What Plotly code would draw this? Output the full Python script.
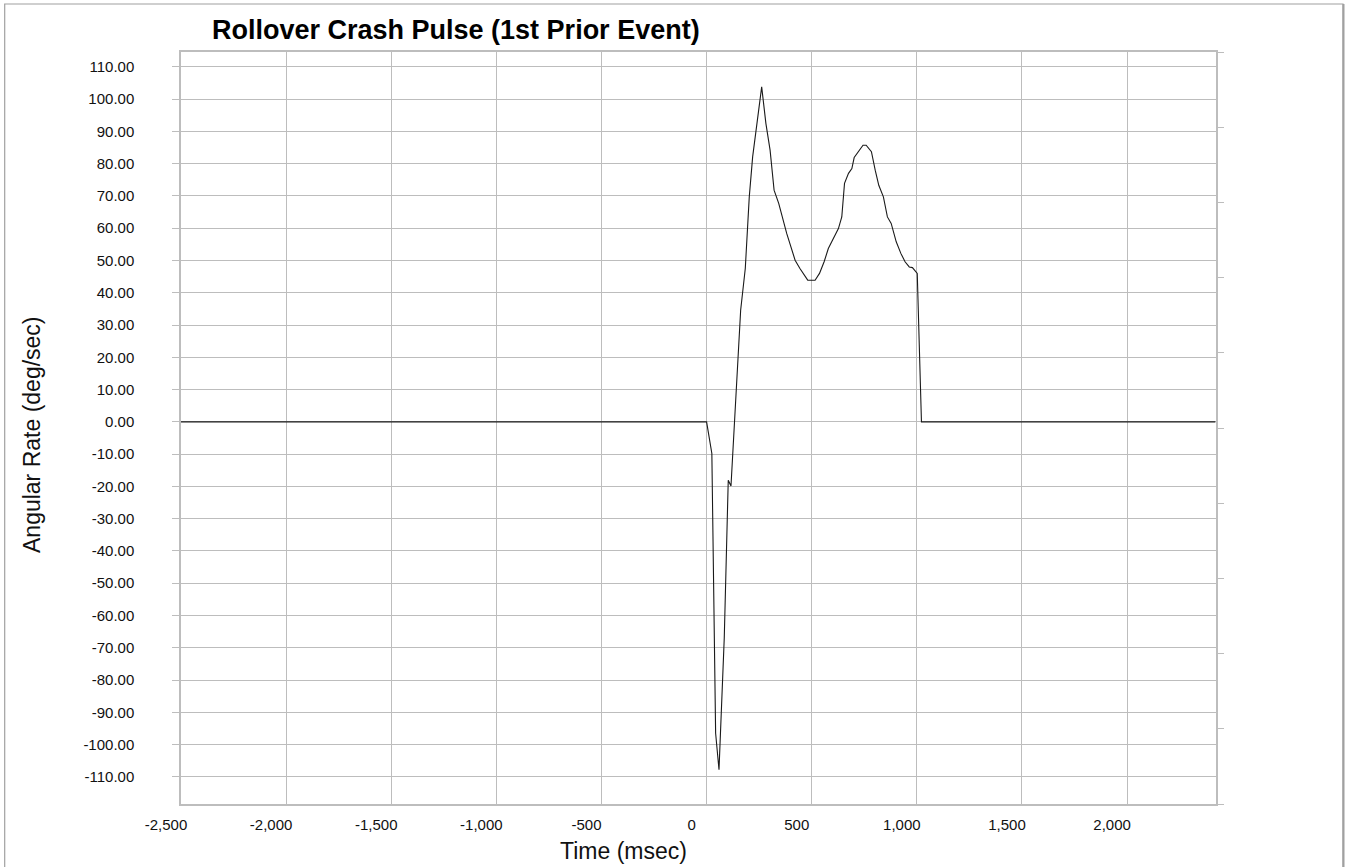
import plotly.graph_objects as go

# ---- data ----
time_msec = [-2500, 0, 25, 43, 59, 84, 103, 116, 162, 184, 203, 219, 262, 282, 302,
             321, 343, 381, 421, 444, 481, 516, 537, 559, 579, 603, 627, 643, 656,
             675, 691, 702, 727, 744, 759, 784, 802, 819, 841, 860, 878, 902, 924,
             944, 964, 979, 1002, 1022, 2420]
angular_rate = [0, 0, -9.8, -96.5, -107.8, -67.0, -18.1, -19.9, 34.6, 47.5, 69.7, 82.1,
                103.8, 92.5, 84.2, 71.8, 67.7, 58.4, 50.1, 47.5, 43.9, 43.9, 46.0, 49.6,
                53.7, 56.8, 59.9, 63.5, 73.9, 77.0, 78.5, 81.9, 84.0, 85.7, 85.7, 83.7,
                78.0, 73.3, 69.7, 63.5, 61.5, 55.8, 52.2, 49.6, 48.0, 47.8, 46.0, 0, 0]

x_tick_values = [-2500, -2000, -1500, -1000, -500, 0, 500, 1000, 1500, 2000]
x_tick_labels = ["-2,500", "-2,000", "-1,500", "-1,000", "-500", "0", "500",
                 "1,000", "1,500", "2,000"]
y_tick_values = [110, 100, 90, 80, 70, 60, 50, 40, 30, 20, 10, 0,
                 -10, -20, -30, -40, -50, -60, -70, -80, -90, -100, -110]
y_tick_labels = ["110.00", "100.00", "90.00", "80.00", "70.00", "60.00", "50.00",
                 "40.00", "30.00", "20.00", "10.00", "0.00", "-10.00", "-20.00",
                 "-30.00", "-40.00", "-50.00", "-60.00", "-70.00", "-80.00",
                 "-90.00", "-100.00", "-110.00"]
right_tick_values = [0, 1, 2, 3, 4, 5, 6, 7, 8, 9, 10]

title_text = "Rollover Crash Pulse (1st Prior Event)"
x_title = "Time (msec)"
y_title = "Angular Rate (deg/sec)"

# ---- layout geometry ----
W, H = 1347, 867
ML, MR, MT, MB = 181, 131, 52, 63
PW, PH = W - ML - MR, H - MT - MB


def px_x(px):
    return (px - ML) / PW


def px_y(py):
    return (H - MB - py) / PH


FONT = "Liberation Sans, Arial, sans-serif"
GRID = "#bdbdbd"

fig = go.Figure()
fig.add_trace(go.Scatter(x=time_msec, y=angular_rate, mode="lines",
                         line=dict(color="#1a1a1a", width=1.1),
                         showlegend=False, hoverinfo="x+y"))
# empty trace so that the right-hand tick axis is drawn
fig.add_trace(go.Scatter(x=[], y=[], yaxis="y2", showlegend=False, hoverinfo="skip"))

fig.update_layout(
    width=W, height=H,
    margin=dict(l=ML, r=MR, t=MT, b=MB, pad=0),
    paper_bgcolor="white", plot_bgcolor="white",
    font=dict(family=FONT, size=15, color="#111111"),
    showlegend=False,
    xaxis=dict(range=[-2500, 2423], tickmode="array", tickvals=x_tick_values,
               ticktext=x_tick_labels, ticks="", showgrid=True, gridcolor=GRID,
               gridwidth=1, zeroline=False, showline=True, linecolor=GRID,
               linewidth=1.5, mirror=True, ticklabelshift=-15,
               ticklabelstandoff=6, tickfont=dict(size=15)),
    yaxis=dict(range=[-118.4, 114.6], tickmode="array", tickvals=y_tick_values,
               ticktext=y_tick_labels, ticks="outside", ticklen=7, tickcolor=GRID,
               tickwidth=1, showgrid=True, gridcolor=GRID, gridwidth=1,
               zeroline=False, showline=True, linecolor=GRID, linewidth=1.5,
               mirror=True, ticklabelstandoff=35, tickfont=dict(size=15)),
    yaxis2=dict(overlaying="y", side="right", anchor="x", range=[0, 10],
                tickmode="array", tickvals=right_tick_values, ticks="outside",
                ticklen=7, tickcolor=GRID, tickwidth=1, showticklabels=False,
                showgrid=False, zeroline=False, showline=False),
)

fig.add_annotation(text="<b>" + title_text + "</b>", xref="paper", yref="paper",
                   x=px_x(456), y=px_y(30), xanchor="center", yanchor="middle",
                   showarrow=False, font=dict(family=FONT, size=27, color="#000000"))
fig.add_annotation(text=x_title, xref="paper", yref="paper",
                   x=px_x(623), y=px_y(851), xanchor="center", yanchor="middle",
                   showarrow=False, font=dict(family=FONT, size=23, color="#111111"))
fig.add_annotation(text=y_title, xref="paper", yref="paper", textangle=-90,
                   x=px_x(32), y=px_y(435), xanchor="center", yanchor="middle",
                   showarrow=False, font=dict(family=FONT, size=23, color="#111111"))

# outer chart border
fig.add_shape(type="rect", xref="paper", yref="paper",
              x0=px_x(4.7), x1=px_x(1343), y0=px_y(880), y1=px_y(4),
              line=dict(color="#a0a0a0", width=1.2), layer="below")
fig.add_shape(type="line", xref="paper", yref="paper",
              x0=px_x(1343.5), x1=px_x(1343.5), y0=px_y(880), y1=px_y(4),
              line=dict(color="#a0a0a0", width=2))

fig.write_html("out.html",
               config={"displayModeBar": False},
               post_script="document.body.style.margin='0px';"
                           "document.body.style.overflow='hidden';")
